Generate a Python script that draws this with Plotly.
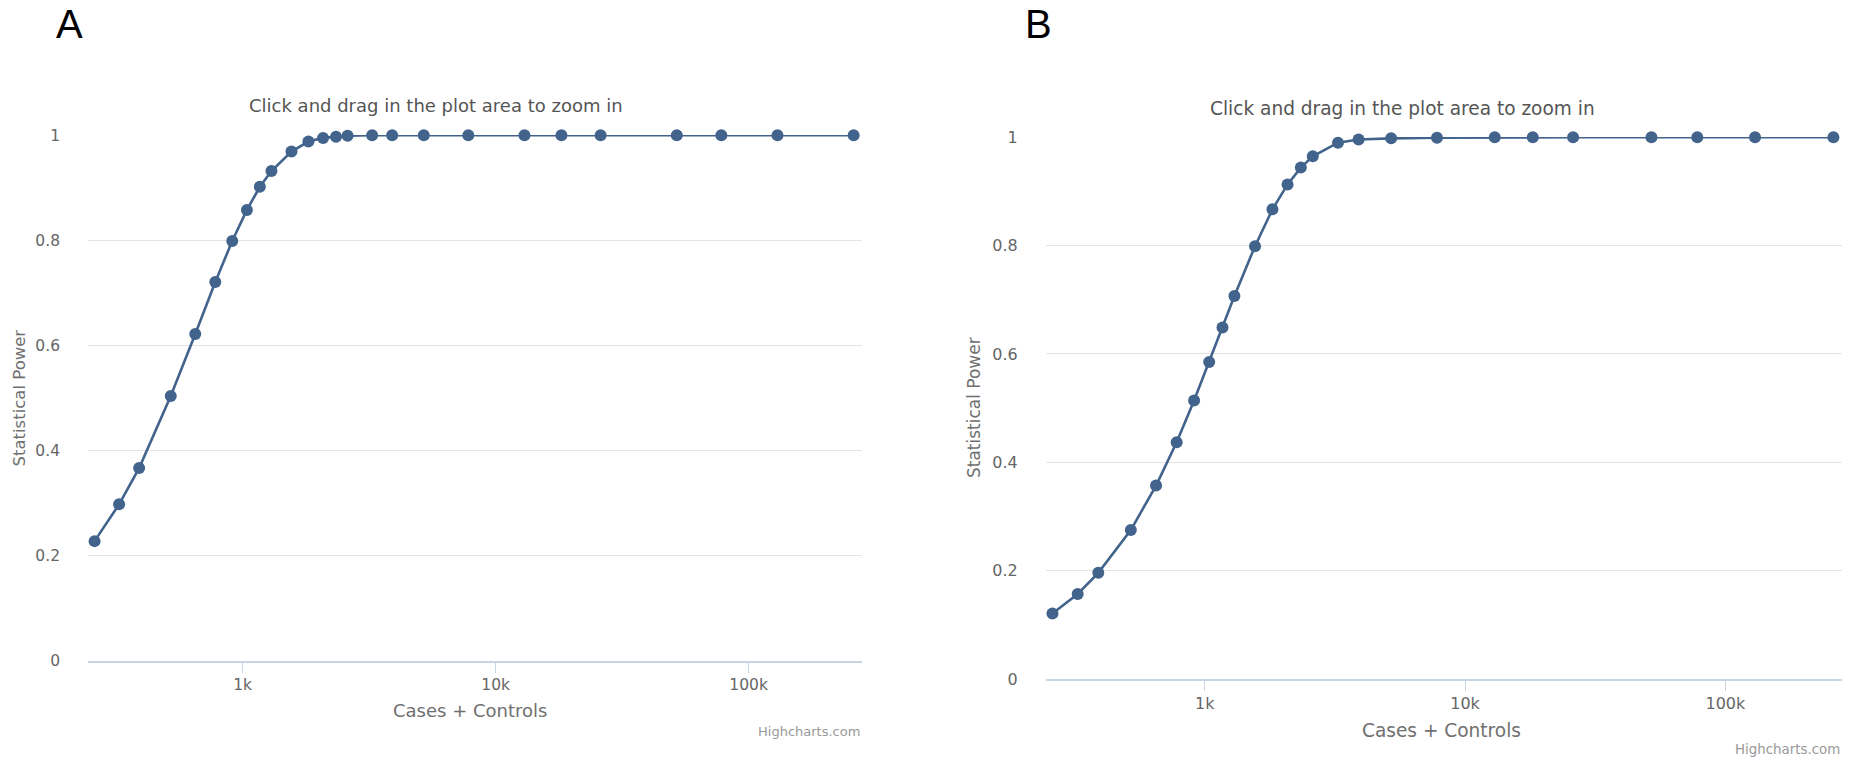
import plotly.graph_objects as go

# ---------------- data ----------------
cases_controls = [260, 325, 390, 520, 650, 780, 910, 1040, 1170, 1300, 1560, 1820,
                  2080, 2340, 2600, 3250, 3900, 5200, 7800, 13000, 18200, 26000,
                  52000, 78000, 130000, 260000]
power_a = [0.228, 0.298, 0.367, 0.504, 0.622, 0.721, 0.799, 0.858, 0.902, 0.932,
           0.969, 0.988, 0.995, 0.997, 0.999, 1.0, 1.0, 1.0, 1.0, 1.0, 1.0, 1.0,
           1.0, 1.0, 1.0, 1.0]
power_b = [0.121, 0.157, 0.196, 0.275, 0.357, 0.437, 0.514, 0.585, 0.649, 0.707,
           0.799, 0.867, 0.913, 0.944, 0.965, 0.990, 0.996, 0.998, 0.999, 1.0,
           1.0, 1.0, 1.0, 1.0, 1.0, 1.0]
x_tick_vals = [1000, 10000, 100000]
x_tick_text = ["1k", "10k", "100k"]
y_tick_vals = [0, 0.2, 0.4, 0.6, 0.8, 1]
y_tick_text = ["0", "0.2", "0.4", "0.6", "0.8", "1"]
panel_labels = ["A", "B"]
subtitle = "Click and drag in the plot area to zoom in"
x_title = "Cases + Controls"
y_title = "Statistical Power"
credits = "Highcharts.com"

# ---------------- style ----------------
W, H = 1851, 759
LINE_COLOR = "#42638c"
GRID = "#e4e4e4"
AXIS = "#c6d4e3"
FONT = "DejaVu Sans"

def fx(px):
    return px / W

def fy(py):
    return 1 - py / H

fig = go.Figure()
for i, (pw, ax) in enumerate([(power_a, ""), (power_b, "2")]):
    fig.add_trace(go.Scatter(
        x=cases_controls, y=pw, mode="lines+markers",
        line=dict(color=LINE_COLOR, width=2.6),
        marker=dict(color=LINE_COLOR, size=12),
        xaxis="x" + ax, yaxis="y" + ax, cliponaxis=False,
        showlegend=False, name="Power",
    ))

# panel geometry (pixels)
panels = [
    dict(l=88, r=862, t=135, b=661, s=1.0),
    dict(l=1045.7, r=1842, t=137, b=679, s=1.03),
]

layout = dict(
    width=W, height=H, margin=dict(l=0, r=0, t=0, b=0, autoexpand=False),
    paper_bgcolor="white", plot_bgcolor="white",
    font=dict(family=FONT, color="#666666"),
)
annotations = []
for i, p in enumerate(panels):
    s = p["s"]
    sfx = "" if i == 0 else "2"
    layout["xaxis" + sfx] = dict(
        type="log", domain=[fx(p["l"]), fx(p["r"])], range=[2.389, 5.448],
        anchor="y" + sfx, tickvals=x_tick_vals, ticktext=x_tick_text,
        ticks="outside", ticklen=10, tickcolor=AXIS, tickwidth=1.4,
        showline=True, linecolor=AXIS, linewidth=1.6, showgrid=False,
        zeroline=False, tickfont=dict(size=15.5 * s, color="#666666", family=FONT),
        ticklabelstandoff=-1,
    )
    layout["yaxis" + sfx] = dict(
        domain=[fy(p["b"]), fy(p["t"])], range=[0, 1.0005], anchor="x" + sfx,
        tickvals=y_tick_vals, ticktext=y_tick_text, ticks="",
        showgrid=True, gridcolor=GRID, gridwidth=1.4, zeroline=False,
        showline=False, tickfont=dict(size=15.5 * s, color="#666666", family=FONT),
        ticklabelstandoff=27,
    )
    # panel letter
    annotations.append(dict(
        text=panel_labels[i], x=fx([69, 1038][i]), y=fy(24.5), xref="paper", yref="paper",
        xanchor="center", yanchor="middle", showarrow=False, borderpad=0,
        font=dict(family="Liberation Sans", size=40, color="#000000")))
    # subtitle
    annotations.append(dict(
        text=subtitle, x=fx([436, 1402][i]), y=fy([106, 108][i]), xref="paper", yref="paper",
        xanchor="center", yanchor="middle", showarrow=False,
        font=dict(family=FONT, size=18 * s, color="#555555")))
    # x title
    annotations.append(dict(
        text=x_title, x=fx([470, 1441][i]), y=fy([710, 730][i]), xref="paper", yref="paper",
        xanchor="center", yanchor="middle", showarrow=False,
        font=dict(family=FONT, size=18 * s, color="#707070")))
    # y title
    annotations.append(dict(
        text=y_title, x=fx([18.5, 974][i]), y=fy((p["t"] + p["b"]) / 2), xref="paper", yref="paper",
        xanchor="center", yanchor="middle", showarrow=False, textangle=-90,
        font=dict(family=FONT, size=16.5 * s, color="#707070")))
    # credits
    annotations.append(dict(
        text=credits, x=fx(p["r"]), y=fy([731, 749][i]), xref="paper", yref="paper",
        xanchor="right", yanchor="middle", showarrow=False,
        font=dict(family=FONT, size=13 * s, color="#999999")))

layout["annotations"] = annotations
fig.update_layout(**layout)
fig.write_html("out.html", config={"displayModeBar": False},
               post_script="document.body.style.margin='0';document.body.style.overflow='hidden';")
